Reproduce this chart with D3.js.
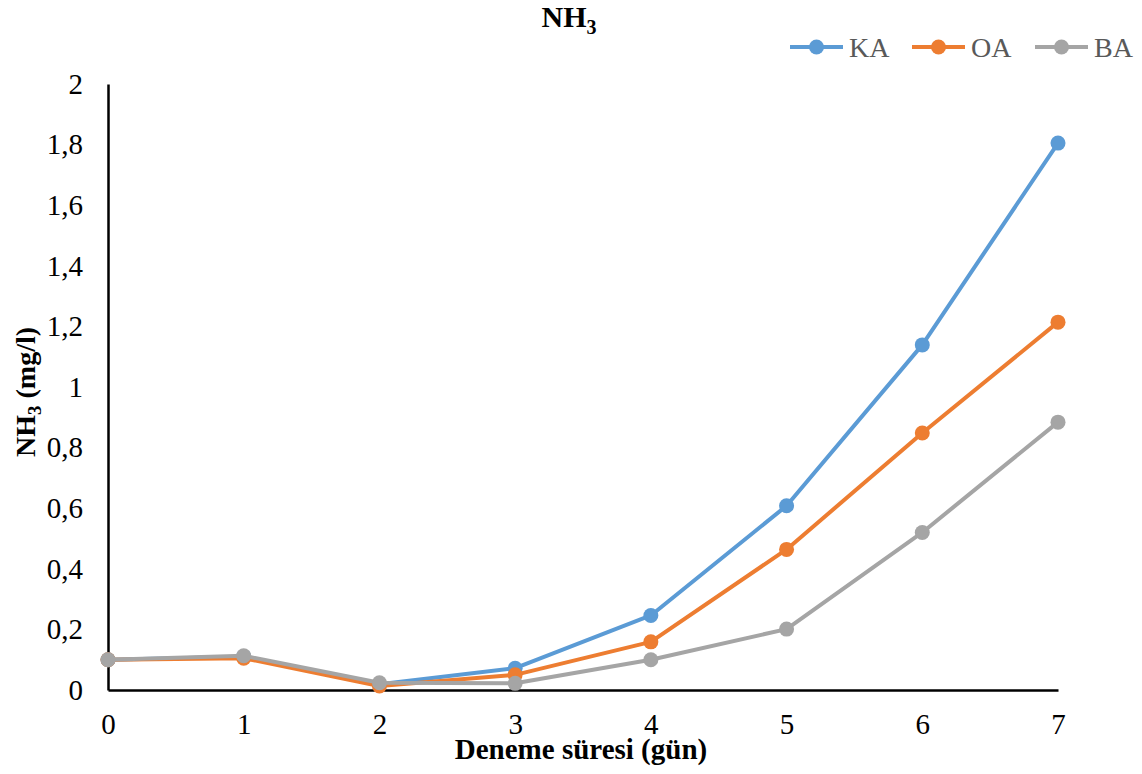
<!DOCTYPE html>
<html>
<head>
<meta charset="utf-8">
<script src="https://cdn.jsdelivr.net/npm/d3@7"></script>
<style>
  html, body { margin: 0; padding: 0; background: #fff; }
</style>
</head>
<body>
<svg id="chart" width="1142" height="774"></svg>
<script>
// Days of the trial
const days = [0, 1, 2, 3, 4, 5, 6, 7];
// NH3 concentration (mg/l) per group
const seriesNames = ["KA", "OA", "BA"];
const valuesKA = [0.10, 0.11, 0.019, 0.072, 0.246, 0.608, 1.139, 1.805];
const valuesOA = [0.10, 0.105, 0.013, 0.050, 0.159, 0.464, 0.848, 1.214];
const valuesBA = [0.10, 0.113, 0.024, 0.022, 0.100, 0.201, 0.520, 0.884];
const seriesColors = ["#5b9bd5", "#ed7d31", "#a5a5a5"];
const yTicks = [0, 0.2, 0.4, 0.6, 0.8, 1, 1.2, 1.4, 1.6, 1.8, 2];

const FONT = '"Liberation Serif"';

const series = [
  { name: seriesNames[0], values: valuesKA, color: seriesColors[0] },
  { name: seriesNames[1], values: valuesOA, color: seriesColors[1] },
  { name: seriesNames[2], values: valuesBA, color: seriesColors[2] }
];

const svg = d3.select("#chart");
const margin = { left: 108, right: 84, top: 84, bottom: 84 };
const W = 1142, H = 774;

const x = d3.scaleLinear().domain([0, 7]).range([margin.left, W - margin.right]);
const y = d3.scaleLinear().domain([0, 2]).range([H - margin.bottom, margin.top]);

const fmt = d => String(+d.toFixed(1)).replace(".", ",");

// Y axis
const yAxis = svg.append("g")
  .attr("transform", `translate(${margin.left},0)`)
  .call(d3.axisLeft(y).tickValues(yTicks).tickFormat(fmt).tickSize(0).tickPadding(25));
yAxis.select(".domain").attr("stroke", "#000").attr("stroke-width", 2.5);
yAxis.selectAll("text").style("font-family", FONT).style("font-size", "29px").attr("fill", "#000");

// X axis
const xAxis = svg.append("g")
  .attr("transform", `translate(0,${H - margin.bottom})`)
  .call(d3.axisBottom(x).tickValues(days).tickFormat(d3.format("d")).tickSize(0).tickPadding(23));
xAxis.select(".domain").attr("stroke", "#000").attr("stroke-width", 2.5);
xAxis.selectAll("text").style("font-family", FONT).style("font-size", "29px").attr("fill", "#000");

// Each series: line, then its markers on top
const line = d3.line().x((d, i) => x(days[i])).y(d => y(d));
series.forEach(s => {
  const g = svg.append("g");
  g.append("path")
    .datum(s.values)
    .attr("fill", "none")
    .attr("stroke", s.color)
    .attr("stroke-width", 4)
    .attr("stroke-linejoin", "round")
    .attr("d", line);
  g.selectAll("circle")
    .data(s.values)
    .join("circle")
    .attr("cx", (d, i) => x(days[i]))
    .attr("cy", d => y(d))
    .attr("r", 7.5)
    .attr("fill", s.color);
});

// Title
const title = svg.append("text")
  .attr("x", 569).attr("y", 27)
  .attr("text-anchor", "middle")
  .style("font-family", FONT).style("font-size", "30px")
  .attr("font-weight", "bold").attr("fill", "#000");
title.append("tspan").text("NH");
title.append("tspan").style("font-size", "20px").attr("dy", 7).text("3");

// Axis titles
svg.append("text")
  .attr("x", 581).attr("y", 759)
  .attr("text-anchor", "middle")
  .style("font-family", FONT).style("font-size", "29px")
  .attr("font-weight", "bold").attr("fill", "#000")
  .text("Deneme süresi (gün)");

const yTitle = svg.append("text")
  .attr("transform", "translate(35,392) rotate(-90)")
  .attr("text-anchor", "middle")
  .style("font-family", FONT).style("font-size", "28px")
  .attr("font-weight", "bold").attr("fill", "#000");
yTitle.append("tspan").text("NH");
yTitle.append("tspan").style("font-size", "19px").attr("dy", 6).text("3");
yTitle.append("tspan").attr("dy", -6).text(" (mg/l)");

// Legend
const legendX = [790, 912, 1035];
series.forEach((s, i) => {
  const g = svg.append("g").attr("transform", `translate(${legendX[i]},47)`);
  g.append("line").attr("x1", 0).attr("x2", 53).attr("y1", 0).attr("y2", 0)
    .attr("stroke", s.color).attr("stroke-width", 4);
  g.append("circle").attr("cx", 26.5).attr("cy", 0).attr("r", 7.5).attr("fill", s.color);
  g.append("text").attr("x", 59).attr("y", 9.5)
    .style("font-family", FONT).style("font-size", "28px")
    .attr("fill", "#595959").text(s.name);
});
</script>
</body>
</html>
